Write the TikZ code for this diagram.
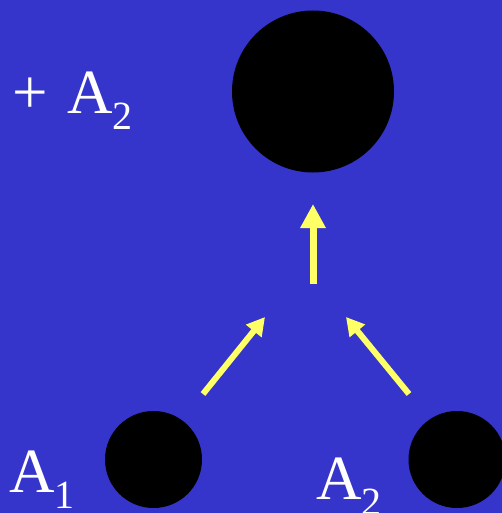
\documentclass[tikz,border=0pt]{standalone}
\usepackage{fontspec}
\setmainfont{Liberation Serif}
\usetikzlibrary{arrows.meta}
\definecolor{bgblue}{HTML}{3535CC}
\definecolor{arrowyellow}{HTML}{FFFF66}
\tikzset{
  ball/.style={circle, fill=black, draw=none, inner sep=0pt},
  lbl/.style={text=white, inner sep=0pt, anchor=base west, font=\fontsize{63}{63}\selectfont},
  bigarrow/.style={draw=arrowyellow, line width=7pt, -{Triangle[length=24pt,width=24pt]}},
  smallarrow/.style={draw=arrowyellow, line width=6pt, -{Triangle[length=18pt,width=19pt]}},
}
\newcommand{\subs}[1]{{\fontsize{40}{40}\selectfont\raisebox{-16pt}{#1}}}
\begin{document}
\begin{tikzpicture}[x=1pt,y=-1pt]
\fill[bgblue] (0,0) rectangle (502,513);
\useasboundingbox (0,0) rectangle (502,513);
\node[ball, minimum size=162pt] (top) at (313,91.5) {};
\node[ball, minimum size=97pt] (left) at (153.5,459.5) {};
\node[ball, minimum size=97pt] (right) at (457,459.5) {};
\coordinate (vt) at (313,284);
\coordinate (vh) at (313,204);
\coordinate (lt) at (203,394);
\coordinate (lh) at (265,317);
\coordinate (rt) at (409,394);
\coordinate (rh) at (346,317);
\draw[bigarrow] (vt) -- (vh);
\draw[smallarrow] (lt) -- (lh);
\draw[smallarrow] (rt) -- (rh);
\node[lbl] (sum) at (12,114) {+\hspace{4pt} A\subs{2}};
\node[lbl] (a1) at (9,492) {A\subs{1}};
\node[lbl] (a2) at (316,499) {A\subs{2}};
\end{tikzpicture}
\end{document}
